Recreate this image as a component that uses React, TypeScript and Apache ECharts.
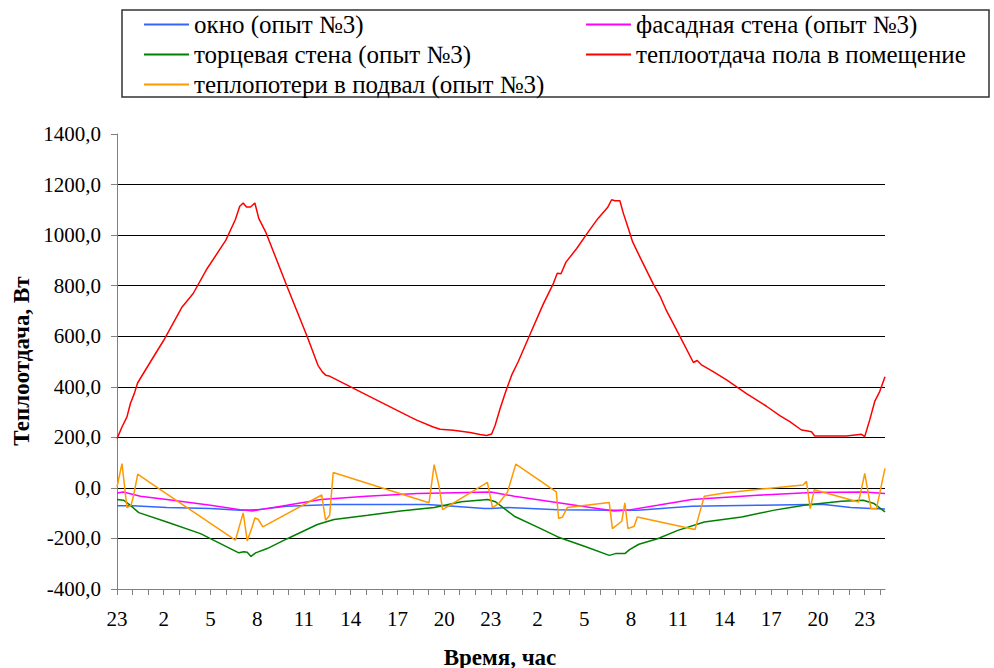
import React, { useEffect, useRef } from "react";
import * as echarts from "echarts";

const seriesNames = [
  "окно (опыт №3)",
  "фасадная стена (опыт №3)",
  "торцевая стена (опыт №3)",
  "теплоотдача пола в помещение",
  "теплопотери в подвал (опыт №3)",
];

const seriesColors = ["#3366FF", "#FF00FF", "#008000", "#FF0000", "#FF9900"];

// x: hours elapsed since 23:00 of the first day
const hourTickLabels = ["23", "2", "5", "8", "11", "14", "17", "20", "23", "2", "5", "8", "11", "14", "17", "20", "23"];
const hourTickCount = 50;
const hourMax = 49.3;

const oknoData: [number, number][] = [
  [0, -71], [1, -71], [3.2, -78], [6, -82], [7.9, -88], [9, -86], [10.9, -73], [13.9, -66],
  [16, -66], [19.9, -66], [21.6, -73], [23.6, -82], [24, -82], [25.1, -78], [28.3, -86],
  [31.9, -88], [33.4, -88], [36.9, -73], [41.1, -69], [44.4, -66], [45.4, -66], [47.1, -78],
  [48.4, -82], [49.3, -84],
];

const fasadData: [number, number][] = [
  [0, -20], [0.4, -16], [1.5, -33], [3.2, -46], [6, -69], [7.9, -86], [8.7, -91], [9.2, -86],
  [10.9, -69], [13.1, -46], [16, -33], [19.3, -22], [22.5, -18], [24, -16], [25.5, -33],
  [27.9, -55], [30.4, -78], [31.9, -91], [33, -86], [34.7, -69], [36.9, -46], [41.1, -29],
  [44.6, -18], [48, -16], [49.3, -22],
];

const tortsData: [number, number][] = [
  [0, -46], [0.43, -49], [0.86, -69], [1.4, -98], [3.2, -135], [5.36, -181], [7.82, -257],
  [8.14, -253], [8.36, -255], [8.6, -271], [8.9, -257], [9.64, -240], [10.93, -201],
  [12.86, -145], [13.93, -125], [16.1, -108], [18.2, -91], [20.36, -78], [22.1, -55],
  [23.8, -46], [24.3, -55], [25.5, -112], [27.2, -161], [28.3, -194], [30, -231], [31.6, -267],
  [32, -260], [32.6, -260], [32.9, -244], [33.5, -223], [34.7, -201], [36, -168], [37.7, -135],
  [40.1, -115], [42.2, -88], [44.1, -69], [46.5, -53], [47.9, -49], [48.6, -62], [49.3, -95],
];

const polData: [number, number][] = [
  [0, 195], [0.32, 241], [0.64, 281], [0.86, 334], [1.11, 373], [1.32, 415], [2.14, 498],
  [3.0, 584], [4.18, 716], [4.89, 769], [5.79, 868], [6.99, 980], [7.6, 1062], [7.88, 1114],
  [8.1, 1127], [8.31, 1111], [8.57, 1111], [8.85, 1127], [9.1, 1066], [9.54, 1013],
  [10.93, 795], [12.22, 597], [12.9, 485], [13.18, 459], [13.4, 446], [13.61, 443], [16.2, 362],
  [18.81, 281], [19.24, 268], [20.3, 241], [20.74, 232], [21.6, 228], [22.67, 219], [23.3, 211],
  [23.73, 207], [24.05, 213], [24.27, 247], [24.59, 313], [24.91, 373], [25.34, 447],
  [25.76, 500], [26.51, 607], [27.36, 727], [28.0, 807], [28.26, 849], [28.5, 847], [28.82, 893],
  [29.51, 947], [30.25, 1013], [30.89, 1067], [31.49, 1109], [31.75, 1140], [31.96, 1136],
  [32.28, 1136], [32.5, 1087], [32.82, 1027], [33.1, 973], [33.57, 913], [34.42, 807],
  [34.85, 760], [35.28, 700], [36.02, 613], [37.0, 496], [37.24, 504], [37.52, 487],
  [38.27, 460], [39.13, 427], [40.41, 373], [41.69, 323], [42.55, 286], [43.19, 262],
  [43.94, 229], [44.26, 226], [44.58, 222], [44.79, 205], [46.82, 205], [47.79, 212],
  [48.0, 203], [48.32, 269], [48.64, 342], [48.96, 381], [49.3, 440],
];

const podvalData: [number, number][] = [
  [0, 4], [0.32, 96], [0.64, -78], [0.9, -69], [1.07, -29], [1.33, 54], [2.14, 20], [7.6, -207],
  [8.1, -99], [8.36, -210], [8.68, -154], [8.85, -119], [9.06, -124], [9.36, -154], [13.14, -28],
  [13.39, -128], [13.65, -108], [13.88, 61], [20.03, -59], [20.36, 92], [20.68, 4], [20.9, -86],
  [23.78, 22], [24.1, -78], [24.5, -62], [25.07, -16], [25.6, 94], [28.2, -16], [28.35, -121],
  [28.6, -115], [28.9, -78], [31.6, -58], [31.8, -161], [32.4, -132], [32.6, -59], [32.8, -161],
  [33.2, -152], [33.4, -115], [37.1, -165], [37.7, -33], [39, -20], [41.6, -3], [44.05, 11],
  [44.26, 26], [44.5, -82], [44.76, -7], [47.6, -56], [48.0, 57], [48.4, -82], [48.75, -82],
  [49.3, 77],
];

const allData = [oknoData, fasadData, tortsData, polData, podvalData];

const yTitle = "Теплоотдача, Вт";
const xTitle = "Время, час";

const FONT = "Liberation Serif, Times New Roman, serif";

export default function App() {
  const ref = useRef<HTMLDivElement>(null);

  useEffect(() => {
    if (!ref.current) return;
    const chart = echarts.init(ref.current, null, { renderer: "svg" });

    const legendText = {
      fontFamily: FONT,
      fontSize: 25,
      color: "#000",
      lineHeight: 24,
    };

    const option: any = {
      animation: false,
      backgroundColor: "#fff",
      textStyle: { fontFamily: FONT },
      grid: {
        left: 117,
        right: 109,
        top: 134,
        bottom: 79,
        containLabel: false,
        outerBoundsMode: "none",
      },
      legend: [
        {
          orient: "vertical",
          left: 144,
          top: 12,
          padding: 0,
          itemWidth: 45,
          itemHeight: 2,
          itemGap: 5,
          icon: "rect",
          selectedMode: false,
          textStyle: legendText,
          data: [seriesNames[0], seriesNames[2], seriesNames[4]],
        },
        {
          orient: "vertical",
          left: 586,
          top: 12,
          padding: 0,
          itemWidth: 45,
          itemHeight: 2,
          itemGap: 5,
          icon: "rect",
          selectedMode: false,
          textStyle: legendText,
          data: [seriesNames[1], seriesNames[3]],
        },
      ],
      xAxis: {
        type: "value",
        min: 0,
        max: hourMax,
        axisLine: { show: true, onZero: false, lineStyle: { color: "#808080", width: 1 } },
        axisTick: {
          show: true,
          length: 6,
          customValues: Array.from({ length: hourTickCount }, (_, i) => i),
          lineStyle: { color: "#808080" },
        },
        axisLabel: {
          customValues: hourTickLabels.map((_, i) => i * 3),
          formatter: (v: number) => hourTickLabels[Math.round(v / 3)] ?? "",
          margin: 19,
          fontFamily: FONT,
          fontSize: 21,
          color: "#000",
        },
        splitLine: { show: false },
      },
      yAxis: {
        type: "value",
        min: -400,
        max: 1400,
        interval: 200,
        axisLine: { show: true, lineStyle: { color: "#808080", width: 1 } },
        axisTick: { show: true, length: 6, lineStyle: { color: "#808080" } },
        axisLabel: {
          formatter: (v: number) => v.toFixed(1).replace(".", ","),
          margin: 16,
          fontFamily: FONT,
          fontSize: 21,
          color: "#000",
        },
        splitLine: {
          show: true,
          showMaxLine: false,
          lineStyle: { color: "#000", width: 1 },
        },
      },
      graphic: [
        {
          type: "rect",
          shape: { x: 122, y: 10, width: 867, height: 87 },
          style: { fill: "none", stroke: "#333", lineWidth: 1.5 },
          silent: true,
        },
        {
          type: "text",
          x: 21,
          y: 361,
          rotation: Math.PI / 2,
          style: {
            text: yTitle,
            fontFamily: FONT,
            fontSize: 23,
            fontWeight: "bold",
            fill: "#000",
            align: "center",
            verticalAlign: "middle",
          },
        },
        {
          type: "text",
          x: 500,
          y: 657,
          style: {
            text: xTitle,
            fontFamily: FONT,
            fontSize: 23,
            fontWeight: "bold",
            fill: "#000",
            align: "center",
            verticalAlign: "middle",
          },
        },
      ],
      series: seriesNames.map((name, i) => ({
        name,
        type: "line",
        data: allData[i],
        symbol: "none",
        showSymbol: false,
        smooth: false,
        lineStyle: { color: seriesColors[i], width: 1.5 },
        itemStyle: { color: seriesColors[i] },
      })),
    };

    chart.setOption(option);
    return () => {
      chart.dispose();
    };
  }, []);

  return (
    <div
      ref={ref}
      style={{ position: "absolute", left: 0, top: 0, width: 994, height: 668 }}
    />
  );
}
